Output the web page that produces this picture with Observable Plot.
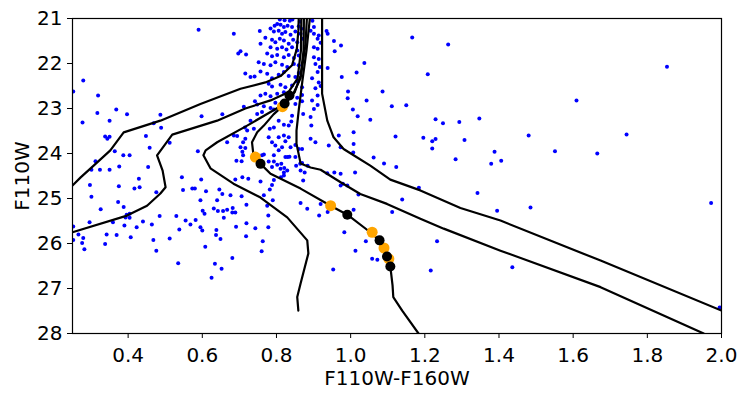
<!DOCTYPE html>
<html><head><meta charset="utf-8">
<script src="https://cdn.jsdelivr.net/npm/d3@7"></script>
<script src="https://cdn.jsdelivr.net/npm/@observablehq/plot@0.6"></script>
<style>body{margin:0;background:#fff}</style>
</head><body>
<div id="chart"></div>
<script>
const xTicks = [0.4, 0.6, 0.8, 1.0, 1.2, 1.4, 1.6, 1.8, 2.0];
const yTicks = [21, 22, 23, 24, 25, 26, 27, 28];

// observed stars: [F110W-F160W, F110W]
const stars = [
[0.252,22.62],[0.279,22.38],[0.319,22.71],[0.277,23.31],[0.317,23.10],[0.368,23.02],[0.397,23.13],[0.350,23.27],[0.338,23.62],[0.344,23.67],[0.350,23.63],[0.487,23.14],[0.469,23.33],[0.489,23.43],[0.448,23.61],[0.458,23.87],[0.364,23.95],[0.387,24.04],[0.404,24.04],[0.312,24.17],[0.376,24.29],[0.454,24.30],[0.301,24.36],[0.324,24.36],[0.350,24.36],[0.512,23.76],[0.598,23.17],[0.654,23.13],[0.588,23.95],[0.667,23.75],[0.694,23.61],[0.590,21.25],[0.685,21.34],
[0.429,24.56],[0.297,24.70],[0.375,24.73],[0.417,24.78],[0.431,24.75],[0.545,24.53],[0.573,24.78],[0.580,24.78],
[0.301,24.96],[0.476,24.86],[0.326,25.24],[0.373,25.08],[0.388,25.19],[0.396,25.36],[0.404,25.34],[0.404,25.43],[0.393,25.42],[0.359,25.53],[0.296,25.53],[0.252,25.62],[0.266,25.80],[0.252,25.92],[0.279,25.88],[0.276,25.99],[0.282,26.13],[0.338,26.01],[0.342,25.80],[0.369,25.81],[0.390,25.60],[0.407,25.86],[0.423,25.64],[0.440,25.51],[0.464,25.58],[0.485,25.39],[0.468,25.92],[0.476,26.16],[0.512,25.89],[0.530,25.39],[0.538,25.69],[0.555,25.49],[0.568,25.58],[0.582,25.48],[0.535,26.44],[0.548,24.81],[0.597,24.58],[0.610,24.84],[0.595,25.04],[0.601,25.27],[0.606,25.34],[0.595,25.64],[0.600,25.71],[0.608,26.07],[0.634,26.45],[0.652,26.56],[0.625,26.76],[0.631,25.22],[0.642,25.28],[0.640,25.04],[0.646,24.80],[0.654,24.90],[0.656,25.28],[0.667,25.25],[0.658,25.43],[0.638,25.70],[0.637,25.81],[0.649,25.90],[0.676,24.93],[0.681,25.31],[0.689,25.31],[0.682,25.21],[0.691,25.63],[0.681,26.32],[0.706,24.95],[0.719,25.14],[0.719,25.55],[0.718,25.84],[0.743,25.66],[0.778,25.64],[0.778,25.38],[0.763,25.95],[0.760,26.17],[0.689,24.58],[0.708,24.53],[0.757,24.62],[0.790,25.04],[0.793,24.59],[0.782,24.80],[0.812,24.53],[0.820,24.49],[0.813,24.23],[0.821,24.32],[0.830,24.08],[0.835,24.07],[0.864,24.23],[0.876,24.42],[0.853,24.27],[0.884,24.27],[0.872,24.60],[0.865,25.10],[0.883,25.23],[0.915,25.38],[0.766,24.02],[0.793,24.18],[0.708,23.96],[0.710,24.04],[0.706,24.17],[0.692,24.16],
[0.938,25.30],[0.983,25.75],[1.013,26.16],[1.041,25.95],[1.058,26.34],[1.072,26.36],[0.953,26.58],[0.956,24.42],[0.968,23.60],[0.941,23.82],
[0.712,22.96],[0.742,22.84],[0.748,22.91],[0.715,23.42],[0.721,23.49],[0.752,21.97],[0.757,21.56],[0.755,21.28],[0.716,22.22],[0.730,22.30],[0.757,22.18],[0.703,21.73],[0.697,21.78],[0.718,21.80],
[1.166,21.42],[1.263,21.58],[1.208,22.24],[1.150,22.93],[1.229,23.24],[1.249,23.33],[1.293,23.30],[1.347,23.22],[1.196,23.65],[1.220,23.73],[1.229,23.68],[1.220,23.89],[1.307,23.70],[1.283,24.13],[1.388,23.96],[1.379,24.23],[1.406,24.16],[1.480,23.60],[1.551,23.95],[1.609,22.82],[1.665,24.00],[1.744,23.58],[1.853,22.07],[1.972,25.10],[1.995,27.42],[1.184,24.76],[1.139,25.02],[1.342,24.88],[1.395,25.27],[1.485,25.20],[1.233,25.95],[1.216,26.60],[1.436,26.53],
[0.974,21.60],[1.037,21.99],[1.016,22.20],[0.976,22.30],[0.993,22.62],[0.992,22.77],[1.086,22.62],[1.043,22.82],[1.006,23.02],[1.019,23.17],[1.053,23.25],[1.111,22.95],[1.008,23.53],[1.008,23.79],[1.007,23.98],[1.121,23.62],[1.062,24.09],[1.090,24.22],[1.123,24.30],[1.012,24.42],[0.979,24.67],[1.021,24.91],[1.008,25.25],[1.112,25.30],[0.935,21.28],[0.938,21.34],[0.957,21.73],[0.955,21.50],
[0.809,21.02],[0.822,21.04],[0.836,21.05],[0.843,21.02],[0.863,21.07],[0.897,21.05],
[0.784,21.22],[0.795,21.16],[0.802,21.12],[0.811,21.14],[0.820,21.19],[0.830,21.16],[0.842,21.19],[0.860,21.17],[0.867,21.23],[0.901,21.19],[0.892,21.27],
[0.793,21.29],[0.806,21.27],[0.815,21.34],[0.824,21.30],[0.838,21.36],[0.851,21.29],[0.865,21.34],[0.901,21.34],[0.914,21.38],
[0.770,21.43],[0.788,21.47],[0.797,21.53],[0.809,21.45],[0.820,21.49],[0.833,21.56],[0.845,21.47],[0.856,21.53],[0.869,21.45],[0.911,21.45],[0.919,21.54],
[0.784,21.64],[0.802,21.67],[0.815,21.64],[0.827,21.69],[0.842,21.64],[0.856,21.71],[0.901,21.64],[0.911,21.67],
[0.775,21.78],[0.788,21.84],[0.802,21.81],[0.820,21.86],[0.833,21.81],[0.847,21.88],[0.860,21.82],[0.901,21.86],[0.914,21.90],
[0.766,22.01],[0.784,22.04],[0.797,21.97],[0.815,22.03],[0.829,22.08],[0.847,22.01],[0.860,22.04],[0.905,22.01],[0.917,22.08],[0.938,22.10],
[0.741,22.29],[0.775,22.23],[0.788,22.33],[0.806,22.25],[0.820,22.19],[0.833,22.28],[0.851,22.30],[0.860,22.21],[0.896,22.33],[0.911,22.19],
[0.779,22.45],[0.788,22.51],[0.811,22.47],[0.824,22.53],[0.842,22.49],[0.856,22.40],[0.869,22.53],[0.905,22.55],[0.919,22.50],[0.914,22.42],
[0.757,22.71],[0.770,22.67],[0.784,22.73],[0.802,22.67],[0.820,22.64],[0.856,22.76],[0.869,22.70],[0.911,22.71],[0.896,22.82],
[0.766,22.95],[0.784,22.99],[0.797,22.87],[0.851,22.90],[0.869,22.84],[0.911,22.92],
[0.793,23.02],[0.748,23.12],[0.761,23.08],[0.901,23.01],[0.872,23.12],[0.730,23.27],[0.739,23.45],[0.782,23.45],[0.793,23.42],[0.806,23.27],[0.820,23.36],[0.833,23.38],[0.842,23.16],[0.840,23.29],[0.892,23.19],[0.894,23.38],
[0.685,23.60],[0.716,23.67],[0.710,23.75],[0.703,23.86],[0.716,23.88],[0.779,23.64],[0.788,23.75],[0.806,23.64],[0.820,23.60],[0.833,23.64],[0.824,23.73],[0.797,23.82],[0.815,23.86],[0.838,23.86],[0.851,23.81],[0.860,23.90],[0.869,23.90],[0.892,23.67],[0.905,23.75],[0.973,23.86],
[0.761,24.04],[0.806,23.93],[0.793,24.04],[0.824,24.08],[0.851,24.08],[0.869,24.21],[0.865,24.38],[0.779,24.18],[0.788,24.30],[0.802,24.25],[0.811,24.34],[0.820,24.42],[0.788,24.70],[0.829,24.38],[0.724,24.56],[0.937,24.44],[0.973,24.45],[0.766,24.93],[0.775,25.16],[0.919,25.12],[0.973,24.71],[0.991,24.71]
];

// model isochrones: [F110W-F160W, F110W]
const iso1 = [[0.250,24.71],[0.272,24.53],[0.307,24.27],[0.352,23.93],[0.388,23.53],[0.487,23.27],[0.595,22.90],[0.703,22.56],[0.770,22.42],[0.811,22.28],[0.842,22.04],[0.855,21.67],[0.859,21.27],[0.860,21.0]];
const iso2 = [[0.250,25.75],[0.397,25.38],[0.451,25.16],[0.487,24.89],[0.501,24.75],[0.493,24.38],[0.478,24.04],[0.519,23.58],[0.640,23.27],[0.716,23.00],[0.784,22.82],[0.832,22.64],[0.857,22.33],[0.866,21.71],[0.867,21.0]];
const iso3 = [[0.859,27.49],[0.856,27.19],[0.865,26.89],[0.886,26.22],[0.883,25.93],[0.829,25.42],[0.757,24.98],[0.684,24.67],[0.622,24.33],[0.603,24.04],[0.609,23.93],[0.640,23.75],[0.721,23.38],[0.792,23.04],[0.819,22.91],[0.849,22.64],[0.865,22.27],[0.873,21.71],[0.874,21.0]];
const iso4 = [[0.882,21.0],[0.878,21.60],[0.865,22.33],[0.843,22.71],[0.819,22.93],[0.792,23.13],[0.766,23.38],[0.748,23.53],[0.734,23.75],[0.738,24.04],[0.757,24.23],[0.784,24.45],[0.865,24.78],[0.946,25.16],[0.991,25.36],[1.053,25.75],[1.078,25.93],[1.089,26.12],[1.098,26.30],[1.107,26.51],[1.113,26.93],[1.115,27.19],[1.139,27.49],[1.183,28.0]];
const iso5 = [[0.890,21.0],[0.881,21.71],[0.870,22.38],[0.860,23.04],[0.854,23.49],[0.854,23.78],[0.865,24.22],[0.892,24.31],[0.919,24.36],[0.973,24.64],[1.026,24.90],[1.098,25.12],[1.188,25.45],[1.251,25.67],[1.404,26.16],[1.674,26.97],[1.952,28.0]];
const iso6 = [[0.923,21.0],[0.923,22.67],[0.937,23.27],[0.954,23.64],[0.981,23.90],[1.008,24.04],[1.053,24.27],[1.107,24.58],[1.188,24.82],[1.296,25.21],[1.404,25.49],[1.674,26.38],[2.0,27.49]];
const isochrones = [iso1, iso2, iso3, iso4, iso5, iso6];

// mass points on the isochrones
const massOrange = [[0.816,22.96],[0.743,24.08],[0.946,25.16],[1.058,25.75],[1.090,26.10],[1.103,26.34]];
const massBlack = [[0.835,22.71],[0.822,22.89],[0.757,24.23],[0.991,25.36],[1.078,25.93],[1.098,26.29],[1.107,26.51]];

const lineData = isochrones.flatMap((pts, i) => pts.map(([x, y]) => ({x, y, id: i})));

const chart = Plot.plot({
  width: 748, height: 400,
  marginLeft: 72, marginRight: 27, marginTop: 18, marginBottom: 67,
  style: {fontFamily: "DejaVu Sans", background: "white", color: "black"},
  x: {domain: [0.25, 2.0]},
  y: {domain: [28, 21]},
  marks: [
    Plot.dot(stars, {x: d => d[0], y: d => d[1], r: 2, fill: "blue", clip: true}),
    Plot.line(lineData, {x: "x", y: "y", z: "id", stroke: "black", strokeWidth: 2.2, clip: true}),
    Plot.dot(massOrange, {x: d => d[0], y: d => d[1], r: 5.5, fill: "orange"}),
    Plot.dot(massBlack, {x: d => d[0], y: d => d[1], r: 5, fill: "black"}),
    Plot.frame({stroke: "black", strokeWidth: 1.2}),
    Plot.axisX({ticks: xTicks, tickFormat: d3.format(".1f"), tickSize: 5, tickPadding: 9, fontSize: 20, label: null}),
    Plot.axisY({ticks: yTicks, tickFormat: d3.format("d"), tickSize: 5, tickPadding: 5, fontSize: 20, label: null}),
    Plot.text(["F110W-F160W"], {text: d => d, frameAnchor: "bottom", lineAnchor: "middle", textAnchor: "middle", dy: 45, fontSize: 20}),
    Plot.text(["F110W"], {text: d => d, frameAnchor: "left", lineAnchor: "middle", textAnchor: "middle", dx: -50, rotate: -90, fontSize: 20})
  ]
});
document.getElementById("chart").appendChild(chart);
</script>
</body></html>
